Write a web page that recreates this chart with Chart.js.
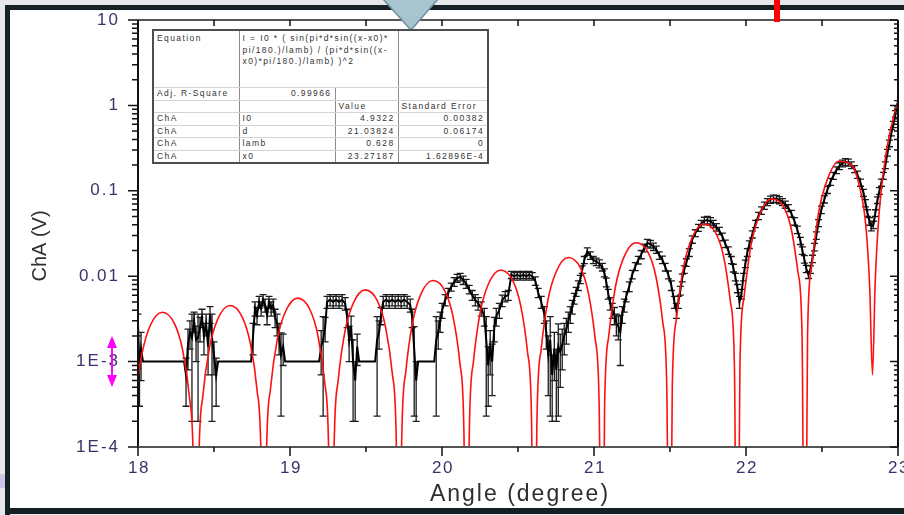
<!DOCTYPE html>
<html>
<head>
<meta charset="utf-8">
<title>ChA vs Angle</title>
<script src="https://cdn.jsdelivr.net/npm/chart.js@4.4.0/dist/chart.umd.min.js"></script>
<style>
  html, body { margin: 0; padding: 0; background: #e5e7eb; }
  #wrap { position: relative; width: 904px; height: 515px; overflow: hidden; }
  #c { position: absolute; left: 0; top: 0; }
  #fit {
    position: absolute; left: 152px; top: 29px; width: 335px;
    border-collapse: collapse; table-layout: fixed; background: #fff;
    border: 2px solid #4d4d4d;
    font: 8.5px Arial, "Liberation Sans", sans-serif; letter-spacing: 1.4px; color: #333;
  }
  #fit td {
    border-top: 1px solid #d4d4d4; border-bottom: 1px solid #d4d4d4;
    border-left: 1.5px solid #8a8a8a; border-right: 1.5px solid #8a8a8a;
    padding: 0 3px; height: 11.5px; line-height: 11.5px;
    vertical-align: top; white-space: nowrap; overflow: hidden;
  }
  #fit tr.eq td { height: 54px; line-height: 11.5px; padding-top: 2px; }
  #fit td.r { text-align: right; }
</style>
</head>
<body>
<div id="wrap">
  <canvas id="c" width="904" height="515"></canvas>
  <table id="fit">
    <colgroup><col style="width:86px"><col style="width:96px"><col style="width:63px"><col style="width:90px"></colgroup>
    <tr class="eq"><td>Equation</td><td colspan="2">I = I0 * ( sin(pi*d*sin((x-x0)*<br>pi/180.)/lamb) / (pi*d*sin((x-<br>x0)*pi/180.)/lamb) )^2</td><td></td></tr>
    <tr><td>Adj. R-Square</td><td class="r">0.99966</td><td></td><td></td></tr>
    <tr><td></td><td></td><td>Value</td><td>Standard Error</td></tr>
    <tr><td>ChA</td><td>I0</td><td class="r">4.9322</td><td class="r">0.00382</td></tr>
    <tr><td>ChA</td><td>d</td><td class="r">21.03824</td><td class="r">0.06174</td></tr>
    <tr><td>ChA</td><td>lamb</td><td class="r">0.628</td><td class="r">0</td></tr>
    <tr><td>ChA</td><td>x0</td><td class="r">23.27187</td><td class="r">1.62896E-4</td></tr>
  </table>
</div>
<script>
// measured channel A signal (V) vs. angle (degree), with standard errors
const angle = [
  18.000, 18.010, 18.020, 18.033, 18.150, 18.303, 18.316, 18.329, 18.342, 18.355,
  18.369, 18.382, 18.395, 18.408, 18.421, 18.434, 18.448, 18.461, 18.474, 18.487,
  18.500, 18.514, 18.527, 18.744, 18.757, 18.770, 18.783, 18.797, 18.810, 18.823,
  18.836, 18.849, 18.862, 18.876, 18.889, 18.902, 18.915, 18.928, 18.941, 18.955,
  18.968, 19.192, 19.205, 19.218, 19.231, 19.244, 19.264, 19.284, 19.303, 19.323,
  19.343, 19.363, 19.376, 19.389, 19.402, 19.415, 19.429, 19.442, 19.455, 19.560,
  19.573, 19.586, 19.599, 19.613, 19.633, 19.652, 19.672, 19.692, 19.712, 19.731,
  19.751, 19.771, 19.791, 19.804, 19.817, 19.830, 19.843, 19.949, 19.962, 19.975,
  19.988, 20.001, 20.021, 20.041, 20.061, 20.080, 20.100, 20.120, 20.140, 20.159,
  20.179, 20.199, 20.219, 20.238, 20.258, 20.278, 20.291, 20.304, 20.317, 20.330,
  20.344, 20.357, 20.377, 20.396, 20.416, 20.436, 20.456, 20.475, 20.495, 20.515,
  20.535, 20.554, 20.574, 20.594, 20.614, 20.633, 20.653, 20.673, 20.686, 20.699,
  20.712, 20.725, 20.739, 20.752, 20.765, 20.778, 20.791, 20.804, 20.818, 20.831,
  20.844, 20.857, 20.870, 20.883, 20.897, 20.910, 20.923, 20.936, 20.956, 20.976,
  20.995, 21.015, 21.035, 21.055, 21.068, 21.081, 21.094, 21.107, 21.120, 21.134,
  21.147, 21.160, 21.173, 21.186, 21.199, 21.212, 21.232, 21.252, 21.272, 21.291,
  21.311, 21.331, 21.351, 21.371, 21.391, 21.410, 21.430, 21.450, 21.469, 21.489,
  21.509, 21.529, 21.542, 21.555, 21.568, 21.581, 21.594, 21.608, 21.627, 21.647,
  21.667, 21.687, 21.706, 21.726, 21.746, 21.766, 21.785, 21.805, 21.825, 21.845,
  21.864, 21.884, 21.904, 21.917, 21.930, 21.944, 21.957, 21.970, 21.983, 21.996,
  22.009, 22.022, 22.042, 22.062, 22.082, 22.102, 22.121, 22.141, 22.161, 22.181,
  22.200, 22.220, 22.240, 22.259, 22.279, 22.299, 22.319, 22.338, 22.358, 22.371,
  22.384, 22.397, 22.411, 22.424, 22.437, 22.450, 22.463, 22.477, 22.496, 22.516,
  22.536, 22.556, 22.575, 22.595, 22.615, 22.635, 22.654, 22.674, 22.694, 22.714,
  22.733, 22.753, 22.773, 22.786, 22.799, 22.812, 22.825, 22.838, 22.851, 22.865,
  22.878, 22.891, 22.904, 22.917, 22.931, 22.944, 22.957, 22.970, 22.983, 22.996
];
const chA = [
  0.0028, 0.0008, 0.0014, 0.001, 0.001, 0.001, 0.0007, 0.0016, 0.0022, 0.0019,
  0.003, 0.0018, 0.0019, 0.0025, 0.0033, 0.002, 0.0028, 0.0015, 0.0036, 0.0019,
  0.0012, 0.0007, 0.001, 0.001, 0.002, 0.0042, 0.0035, 0.005, 0.0042, 0.0053,
  0.0046, 0.0035, 0.005, 0.0042, 0.0046, 0.0033, 0.0028, 0.002, 0.0012, 0.0015,
  0.001, 0.001, 0.0015, 0.0018, 0.0025, 0.005, 0.0053, 0.005, 0.0053, 0.005,
  0.0053, 0.0048, 0.0033, 0.0018, 0.0026, 0.001, 0.0006, 0.0015, 0.001, 0.001,
  0.0018, 0.0022, 0.0035, 0.005, 0.0053, 0.005, 0.0053, 0.005, 0.0053, 0.005,
  0.0053, 0.005, 0.0046, 0.0033, 0.0014, 0.0006, 0.001, 0.001, 0.0018, 0.0022,
  0.003, 0.004, 0.0053, 0.0064, 0.0075, 0.0086, 0.0095, 0.0098, 0.009, 0.0082,
  0.007, 0.006, 0.0053, 0.0048, 0.0042, 0.0034, 0.0018, 0.0009, 0.0015, 0.001,
  0.0025, 0.0034, 0.004, 0.0052, 0.0058, 0.006, 0.0104, 0.01, 0.0104, 0.01,
  0.0104, 0.01, 0.0104, 0.01, 0.0088, 0.0064, 0.005, 0.0036, 0.0022, 0.0012,
  0.0018, 0.0007, 0.0014, 0.0008, 0.0015, 0.0013, 0.0016, 0.002, 0.0024, 0.003,
  0.0036, 0.0044, 0.0055, 0.0066, 0.0078, 0.0092, 0.012, 0.0155, 0.0195, 0.0175,
  0.0155, 0.0148, 0.014, 0.0128, 0.011, 0.0085, 0.0062, 0.0048, 0.004, 0.0035,
  0.0028, 0.0026, 0.0022, 0.0036, 0.0046, 0.0058, 0.0076, 0.0105, 0.013, 0.0155,
  0.018, 0.0215, 0.0245, 0.0238, 0.0222, 0.0205, 0.0175, 0.0156, 0.0128, 0.0104,
  0.0078, 0.005, 0.004, 0.005, 0.0068, 0.0096, 0.012, 0.0145, 0.019, 0.027,
  0.032, 0.037, 0.041, 0.0445, 0.0455, 0.044, 0.041, 0.0375, 0.034, 0.029,
  0.024, 0.02, 0.0155, 0.0125, 0.0098, 0.0072, 0.005, 0.0062, 0.0098, 0.014,
  0.019, 0.0235, 0.031, 0.041, 0.051, 0.059, 0.067, 0.074, 0.079, 0.081,
  0.0805, 0.078, 0.074, 0.069, 0.063, 0.054, 0.044, 0.035, 0.026, 0.02,
  0.0158, 0.0122, 0.0104, 0.012, 0.016, 0.022, 0.03, 0.042, 0.06, 0.08,
  0.103, 0.128, 0.15, 0.175, 0.195, 0.21, 0.218, 0.215, 0.2, 0.18,
  0.155, 0.125, 0.095, 0.072, 0.055, 0.044, 0.038, 0.04, 0.055, 0.078,
  0.1, 0.125, 0.15, 0.2, 0.28, 0.36, 0.48, 0.6, 0.8, 1.05
];
const chAErr = [
  0.0008, 0.0005, 0.0008, 0, 0, 0, 0.0004, 0.0008, 0.0008, 0.0017,
  0.0008, 0.0008, 0.0017, 0.0008, 0.0008, 0.0008, 0.0008, 0.0008, 0.0008, 0.0017,
  0.0005, 0.0004, 0, 0, 0.0008, 0.0008, 0.0008, 0.0008, 0.0008, 0.0008,
  0.0008, 0.0008, 0.0008, 0.0008, 0.0008, 0.0008, 0.0008, 0.0008, 0.00097, 0.0006,
  0, 0, 0.0008, 0.00157, 0.0008, 0.0008, 0.0008, 0.0008, 0.0008, 0.0008,
  0.0008, 0.0008, 0.0008, 0.0008, 0.0008, 0.0008, 0.0004, 0.0006, 0, 0,
  0.00157, 0.0008, 0.0008, 0.0008, 0.0008, 0.0008, 0.0008, 0.0008, 0.0008, 0.0008,
  0.0008, 0.0008, 0.0008, 0.0008, 0.00117, 0.0004, 0, 0, 0.00157, 0.0008,
  0.0008, 0.0008, 0.0008, 0.0008, 0.0008, 0.001, 0.001, 0.001, 0.001, 0.001,
  0.0008, 0.0008, 0.0008, 0.0008, 0.0008, 0.0008, 0.00157, 0.0006, 0.0008, 0.0006,
  0.0008, 0.0008, 0.0008, 0.0008, 0.0008, 0.0008, 0.001, 0.001, 0.001, 0.001,
  0.001, 0.001, 0.001, 0.001, 0.001, 0.0008, 0.0008, 0.0008, 0.0008, 0.0008,
  0.00157, 0.0005, 0.0008, 0.0006, 0.00127, 0.0008, 0.0008, 0.0008, 0.0008, 0.0008,
  0.0008, 0.0008, 0.0008, 0.0008, 0.001, 0.001, 0.0012, 0.0015, 0.002, 0.0018,
  0.0015, 0.0015, 0.0015, 0.0013, 0.0012, 0.001, 0.0008, 0.0008, 0.0008, 0.0008,
  0.0008, 0.0008, 0.0013, 0.0008, 0.0008, 0.0008, 0.001, 0.0012, 0.0014, 0.0016,
  0.002, 0.0022, 0.0025, 0.0024, 0.0022, 0.002, 0.0018, 0.0016, 0.0013, 0.0011,
  0.001, 0.0008, 0.0008, 0.0008, 0.0008, 0.001, 0.0012, 0.0015, 0.002, 0.0027,
  0.003, 0.0035, 0.004, 0.0045, 0.0045, 0.0045, 0.004, 0.0037, 0.0034, 0.003,
  0.0024, 0.002, 0.0015, 0.0013, 0.001, 0.0008, 0.0008, 0.0008, 0.001, 0.0014,
  0.002, 0.0024, 0.003, 0.004, 0.005, 0.006, 0.0065, 0.007, 0.0075, 0.008,
  0.008, 0.0075, 0.007, 0.0065, 0.006, 0.005, 0.0045, 0.0035, 0.0025, 0.002,
  0.0016, 0.0012, 0.001, 0.0012, 0.0016, 0.0022, 0.003, 0.004, 0.006, 0.008,
  0.01, 0.012, 0.014, 0.016, 0.018, 0.019, 0.02, 0.02, 0.018, 0.017,
  0.015, 0.012, 0.009, 0.007, 0.005, 0.0045, 0.004, 0.004, 0.005, 0.007,
  0.009, 0.012, 0.014, 0.018, 0.025, 0.032, 0.04, 0.05, 0.07, 0.09
];

// fitted single-slit curve sampled along the angle range
const fitAngle = [
  18.000, 18.026, 18.079, 18.160, 18.240, 18.293, 18.338, 18.364, 18.382,
  18.400, 18.427, 18.471, 18.524, 18.605, 18.685, 18.738, 18.783, 18.809, 18.827,
  18.845, 18.872, 18.916, 18.969, 19.050, 19.130, 19.183, 19.228, 19.254, 19.272,
  19.290, 19.317, 19.361, 19.414, 19.495, 19.575, 19.628, 19.673, 19.699, 19.717,
  19.735, 19.762, 19.806, 19.859, 19.940, 20.020, 20.073, 20.118, 20.144, 20.162,
  20.180, 20.207, 20.251, 20.304, 20.385, 20.465, 20.518, 20.563, 20.589, 20.607,
  20.625, 20.652, 20.696, 20.749, 20.830, 20.910, 20.963, 21.008, 21.034, 21.052,
  21.070, 21.097, 21.141, 21.194, 21.275, 21.355, 21.408, 21.453, 21.479, 21.497,
  21.515, 21.542, 21.586, 21.639, 21.720, 21.800, 21.853, 21.898, 21.924, 21.942,
  21.960, 21.987, 22.031, 22.084, 22.165, 22.245, 22.298, 22.343, 22.369, 22.387,
  22.405, 22.432, 22.476, 22.529, 22.610, 22.690, 22.743, 22.788, 22.814, 22.832,
  22.850, 22.877, 22.921, 22.974, 23.000
];
const fitValue = [
  6.61e-4, 1.241e-3, 2.613e-3, 3.781e-3, 2.782e-3, 1.378e-3, 3.88e-4, 6.4e-5, 1e-7,
  6.5e-5, 4.02e-4, 1.481e-3, 3.124e-3, 4.535e-3, 3.347e-3, 1.661e-3, 4.68e-4, 7.8e-5, 1e-7,
  7.9e-5, 4.87e-4, 1.799e-3, 3.804e-3, 5.540e-3, 4.104e-3, 2.041e-3, 5.77e-4, 9.6e-5, 1e-7,
  9.8e-5, 6.03e-4, 2.231e-3, 4.731e-3, 6.920e-3, 5.150e-3, 2.569e-3, 7.28e-4, 1.21e-4, 1e-7,
  1.24e-4, 7.65e-4, 2.839e-3, 6.044e-3, 8.889e-3, 6.653e-3, 3.332e-3, 9.47e-4, 1.58e-4, 1e-7,
  1.62e-4, 1.003e-3, 3.736e-3, 7.988e-3, 1.1834e-2, 8.925e-3, 4.494e-3, 1.283e-3, 2.15e-4, 1e-7,
  2.21e-4, 1.372e-3, 5.135e-3, 1.1049e-2, 1.6529e-2, 1.2595e-2, 6.389e-3, 1.836e-3, 3.09e-4, 1e-7,
  3.19e-4, 1.989e-3, 7.498e-3, 1.6276e-2, 2.4691e-2, 1.9102e-2, 9.793e-3, 2.841e-3, 4.81e-4, 1e-7,
  5.01e-4, 3.139e-3, 1.1963e-2, 2.6326e-2, 4.0816e-2, 3.2346e-2, 1.687e-2, 4.969e-3, 8.49e-4, 1e-7,
  8.96e-4, 5.678e-3, 2.2034e-2, 4.9631e-2, 8.0e-2, 6.623e-2, 3.5692e-2, 1.0828e-2, 1.886e-3, 1e-7,
  2.043e-3, 1.3227e-2, 5.3318e-2, 1.2631e-1, 2.222e-1, 2.0462e-1, 1.1997e-1, 3.946e-2, 7.26e-3, 7.0e-4,
  8.52e-3, 5.895e-2, 2.699e-1, 7.709e-1, 1.112
];

// axis ticks
const xTicks = [18, 19, 20, 21, 22, 23];
const yTicks = [1e-4, 1e-3, 0.01, 0.1, 1, 10];
const yTickLabels = ['1E-4', '1E-3', '0.01', '0.1', '1', '10'];

const LABEL_COLOR = '#40306a';

const plotDecor = {
  id: 'plotDecor',
  beforeDraw(chart) {
    const ctx = chart.ctx, W = chart.width, H = chart.height;
    ctx.save();
    ctx.fillStyle = '#e5e7eb';
    ctx.fillRect(0, 0, W, H);
    ctx.fillStyle = '#c9c6e6';
    ctx.fillRect(0, 474, 5, 14);
    ctx.fillStyle = '#ffffff';
    ctx.fillRect(10, 10, W - 10, 498);
    // dark window frame
    ctx.fillStyle = '#152024';
    ctx.fillRect(5, 5, W - 5, 5);
    ctx.fillRect(5, 5, 5, H - 5);
    ctx.fillRect(5, 508, W - 5, 6);
    ctx.restore();
  },
  beforeDatasetsDraw(chart) {
    // error bars of the measured series
    const ctx = chart.ctx, xs = chart.scales.x, ys = chart.scales.y, a = chart.chartArea;
    ctx.save();
    ctx.beginPath();
    ctx.rect(a.left, a.top, a.right - a.left, a.bottom - a.top);
    ctx.clip();
    ctx.strokeStyle = '#1c1c1c';
    ctx.lineWidth = 1.3;
    const cap = 3.5;
    for (let i = 0; i < angle.length; i++) {
      const e = chAErr[i];
      if (!e) continue;
      const x = xs.getPixelForValue(angle[i]);
      const yT = ys.getPixelForValue(chA[i] + e);
      const yB = ys.getPixelForValue(Math.max(chA[i] - e, 1e-6));
      ctx.beginPath();
      ctx.moveTo(x, yT); ctx.lineTo(x, yB);
      ctx.moveTo(x - cap, yT); ctx.lineTo(x + cap, yT);
      ctx.moveTo(x - cap, yB); ctx.lineTo(x + cap, yB);
      ctx.stroke();
    }
    ctx.restore();
  },
  afterDraw(chart) {
    const ctx = chart.ctx, xs = chart.scales.x, ys = chart.scales.y, a = chart.chartArea;
    ctx.save();

    // axis frame
    ctx.strokeStyle = '#111';
    ctx.lineWidth = 2;
    ctx.beginPath();
    ctx.moveTo(a.left, a.top); ctx.lineTo(a.left, a.bottom);
    ctx.moveTo(a.right, a.top); ctx.lineTo(a.right, a.bottom);
    ctx.stroke();
    ctx.strokeStyle = '#555';
    ctx.beginPath();
    ctx.moveTo(a.left, a.bottom); ctx.lineTo(a.right, a.bottom);
    ctx.moveTo(a.left, a.top); ctx.lineTo(a.right, a.top);
    ctx.stroke();

    // x ticks: bottom outward, top inward
    ctx.strokeStyle = '#111';
    ctx.lineWidth = 1.5;
    ctx.beginPath();
    for (let v = 18; v <= 23.001; v += 0.5) {
      const x = xs.getPixelForValue(v);
      const major = Math.abs(v - Math.round(v)) < 1e-6;
      ctx.moveTo(x, a.bottom); ctx.lineTo(x, a.bottom + (major ? 9 : 5));
      ctx.moveTo(x, a.top); ctx.lineTo(x, a.top + 6);
    }
    ctx.stroke();

    // y ticks: left outward, right inward
    ctx.beginPath();
    for (let e = -4; e <= 1; e++) {
      for (let m = 1; m <= 9; m++) {
        if (e === 1 && m > 1) break;
        const v = m * Math.pow(10, e);
        const y = ys.getPixelForValue(v);
        const len = m === 1 ? 10 : 6;
        ctx.moveTo(a.left, y); ctx.lineTo(a.left - len, y);
        ctx.moveTo(a.right, y); ctx.lineTo(a.right - (m === 1 ? 8 : 4), y);
      }
    }
    ctx.stroke();

    // tick labels
    ctx.fillStyle = LABEL_COLOR;
    ctx.font = '17px Arial, "Liberation Sans", sans-serif';
    ctx.letterSpacing = '1.5px';
    ctx.textAlign = 'center';
    ctx.textBaseline = 'middle';
    xTicks.forEach(v => ctx.fillText(String(v), xs.getPixelForValue(v) + 1, a.bottom + 21));
    ctx.letterSpacing = '2px';
    ctx.textAlign = 'right';
    yTicks.forEach((v, i) => ctx.fillText(yTickLabels[i], 120, ys.getPixelForValue(v)));

    // axis titles
    ctx.letterSpacing = '0px';
    ctx.fillStyle = '#2e2e2e';
    ctx.font = '20px Arial, "Liberation Sans", sans-serif';
    ctx.textAlign = 'center';
    ctx.save();
    ctx.translate(40, 246);
    ctx.rotate(-Math.PI / 2);
    ctx.fillText('ChA (V)', 0, 0);
    ctx.restore();
    ctx.font = '23px Arial, "Liberation Sans", sans-serif';
    ctx.letterSpacing = '2px';
    ctx.fillText('Angle (degree)', 520, 495);
    ctx.letterSpacing = '0px';

    // slide markings around the plot
    ctx.fillStyle = '#ff00ff';
    ctx.strokeStyle = '#ff00ff';
    ctx.lineWidth = 2;
    ctx.beginPath();
    ctx.moveTo(112, 344); ctx.lineTo(112, 380);
    ctx.stroke();
    ctx.beginPath();
    ctx.moveTo(112, 336); ctx.lineTo(107, 348); ctx.lineTo(117, 348); ctx.closePath();
    ctx.moveTo(112, 387); ctx.lineTo(107, 375); ctx.lineTo(117, 375); ctx.closePath();
    ctx.fill();

    ctx.fillStyle = '#ff0000';
    ctx.fillRect(774, 0, 6, 22);

    ctx.fillStyle = '#a8c5cf';
    ctx.strokeStyle = '#6f909c';
    ctx.lineWidth = 1.5;
    ctx.beginPath();
    ctx.moveTo(383, -1); ctx.lineTo(438, -1); ctx.lineTo(411, 30); ctx.closePath();
    ctx.fill();
    ctx.stroke();

    ctx.restore();
  }
};

new Chart(document.getElementById('c'), {
  type: 'line',
  data: {
    datasets: [{
      label: 'Fit',
      data: fitAngle.map((x, i) => ({ x: x, y: fitValue[i] })),
      borderColor: '#ff1010',
      borderWidth: 1.6,
      pointRadius: 0,
      cubicInterpolationMode: 'monotone',
      order: 0
    }, {
      label: 'ChA',
      data: angle.map((x, i) => ({ x: x, y: chA[i] })),
      borderColor: '#000000',
      borderWidth: 2,
      pointRadius: 0,
      tension: 0,
      order: 1
    }]
  },
  options: {
    responsive: false,
    animation: false,
    events: [],
    layout: { padding: { left: 138, top: 20, right: 6, bottom: 68 } },
    scales: {
      x: { type: 'linear', min: 18, max: 23, display: false },
      y: { type: 'logarithmic', min: 1e-4, max: 10, display: false }
    },
    plugins: { legend: { display: false }, tooltip: { enabled: false } }
  },
  plugins: [plotDecor]
});
</script>
</body>
</html>
